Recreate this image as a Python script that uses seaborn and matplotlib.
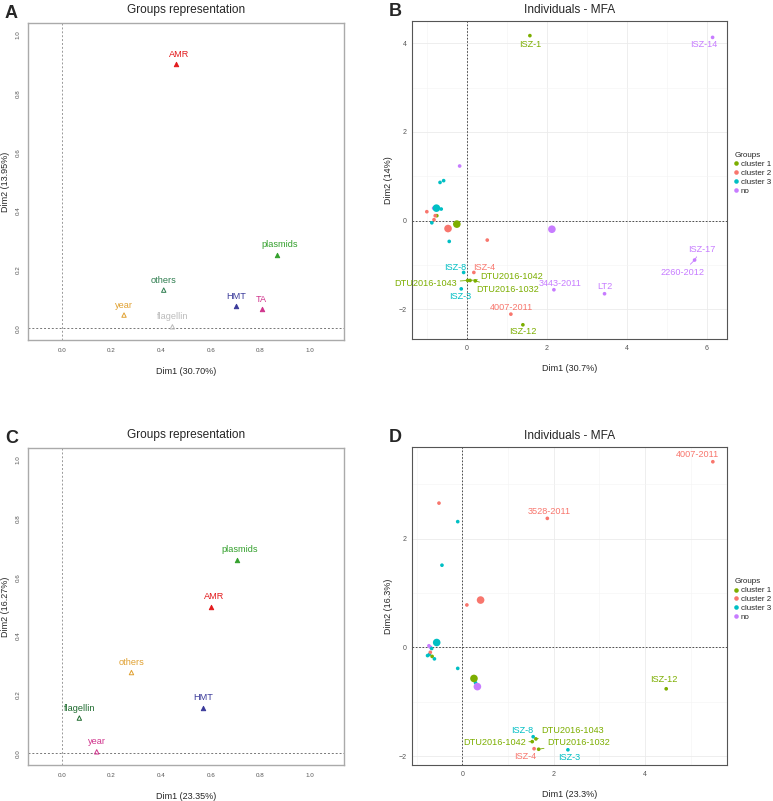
import numpy as np
import pandas as pd
import seaborn as sns
import matplotlib.pyplot as plt

# ---- data: groups representation (panels A and C)
grpA_names = ["AMR", "plasmids", "others", "year", "flagellin", "HMT", "TA"]
grpA_x = [0.46, 0.865, 0.41, 0.25, 0.445, 0.70, 0.805]
grpA_y = [0.90, 0.25, 0.13, 0.045, 0.005, 0.075, 0.065]
grpA_fill = [True, True, False, False, False, True, True]

grpC_names = ["plasmids", "AMR", "others", "HMT", "flagellin", "year"]
grpC_x = [0.705, 0.60, 0.28, 0.57, 0.07, 0.14]
grpC_y = [0.66, 0.50, 0.275, 0.155, 0.12, 0.005]
grpC_fill = [True, True, False, True, False, False]

# ---- data: individuals MFA (panel B)
indB_x = [1.575, 6.14, -0.18, -0.67, -0.58, -1.0, -0.83, -0.64, -0.75, -0.79, -0.82,
          -0.875, 0.51, -0.44, 5.69, -0.08, 0.175, 0.02, 0.08, 0.21, -0.14, 2.175,
          3.44, 1.10, 1.40]
indB_y = [4.17, 4.13, 1.23, 0.86, 0.90, 0.20, 0.28, 0.26, 0.11, 0.11, 0.02,
          -0.05, -0.44, -0.47, -0.89, -1.17, -1.17, -1.35, -1.35, -1.36, -1.54, -1.56,
          -1.65, -2.11, -2.35]
indB_grp = ["cluster 1", "no", "no", "cluster 3", "cluster 3", "cluster 2", "no", "cluster 3",
            "cluster 1", "cluster 2", "cluster 2", "cluster 3", "cluster 2", "cluster 3", "no",
            "cluster 3", "cluster 2", "cluster 1", "cluster 1", "cluster 1", "cluster 3", "no",
            "no", "cluster 2", "cluster 1"]
meanB_grp = ["cluster 1", "cluster 2", "cluster 3", "no"]
meanB_x = [-0.25, -0.47, -0.76, 2.125]
meanB_y = [-0.08, -0.18, 0.28, -0.195]

labB = ["ISZ-1", "ISZ-14", "ISZ-17", "2260-2012", "ISZ-8", "ISZ-4", "DTU2016-1042",
        "DTU2016-1043", "DTU2016-1032", "ISZ-3", "3443-2011", "LT2", "4007-2011", "ISZ-12"]
labB_idx = [0, 1, 14, 14, 15, 16, 18, 17, 19, 20, 21, 22, 23, 24]

# ---- data: individuals MFA (panel D)
indD_x = [5.48, 1.86, -0.51, -0.10, -0.445, 0.10, -0.73, -0.70, -0.67, -0.76, -0.72,
          -0.70, -0.66, -0.61, -0.10, 0.29, 4.46, 1.55, 1.61, 1.53, 1.57, 1.67, 2.31]
indD_y = [3.41, 2.37, 2.65, 2.31, 1.51, 0.78, 0.03, 0.006, -0.02, -0.15, -0.13,
          -0.09, -0.165, -0.21, -0.385, -0.65, -0.76, -1.64, -1.68, -1.73, -1.86, -1.87, -1.88]
indD_grp = ["cluster 2", "cluster 2", "cluster 2", "cluster 3", "cluster 3", "cluster 2", "no", "no",
            "cluster 3", "cluster 3", "cluster 3", "cluster 2", "cluster 1", "cluster 3", "cluster 3",
            "cluster 3", "cluster 1", "cluster 3", "cluster 1", "cluster 1", "cluster 2", "cluster 1",
            "cluster 3"]
meanD_grp = ["cluster 1", "cluster 2", "cluster 3", "no"]
meanD_x = [0.255, 0.40, -0.56, 0.33]
meanD_y = [-0.57, 0.87, 0.09, -0.72]

labD = ["4007-2011", "3528-2011", "ISZ-12", "ISZ-8", "DTU2016-1043", "DTU2016-1042",
        "DTU2016-1032", "ISZ-4", "ISZ-3"]
labD_idx = [0, 1, 16, 17, 18, 19, 21, 20, 22]

# ---- styles
pal = {"cluster 1": "#7CAE00", "cluster 2": "#F8766D", "cluster 3": "#00BFC4", "no": "#C77CFF"}
grp_col = {"AMR": "#E31A1C", "plasmids": "#33A02C", "HMT": "#3A3A9A", "TA": "#D0338C",
           "flagellin": "#BBBBBB", "others": "#2E7D4F", "year": "#E0A030"}
grp_colC = {"AMR": "#E31A1C", "plasmids": "#33A02C", "HMT": "#3A3A9A", "others": "#E0A030",
            "flagellin": "#1F6B2F", "year": "#D0338C"}
# label offsets in pixels (dx right, dy down); True = draw connector
offB = {"ISZ-1": (0, 9, False), "ISZ-14": (-9, 7, False), "ISZ-17": (7, -11, True),
        "2260-2012": (-12, 12, True), "ISZ-8": (-8, -5, False), "ISZ-4": (10, -5, False),
        "DTU2016-1042": (42, -4, True), "DTU2016-1043": (-42, 3, True),
        "DTU2016-1032": (32, 9, True), "ISZ-3": (-1, 8, False), "3443-2011": (6, -6, False),
        "LT2": (0, -7, False), "4007-2011": (1, -7, False), "ISZ-12": (0, 7, False)}
offD = {"4007-2011": (-15, -7, False), "3528-2011": (2, -7, False), "ISZ-12": (-2, -9, False),
        "ISZ-8": (-11, -6, False), "DTU2016-1043": (37, -8, True), "DTU2016-1042": (-38, 1, True),
        "DTU2016-1032": (40, -7, True), "ISZ-4": (-9, 8, False), "ISZ-3": (1, 8, False)}

sns.set_style("white")
plt.rcParams['font.family'] = ['Liberation Sans', 'DejaVu Sans']

fig = plt.figure(figsize=(7.73, 8.01), dpi=100)
PX = 0.72  # points per pixel


def groups_panel(rect, names, xs, ys, fills, cols, xlab, ylab, letter):
    ax = fig.add_axes(rect)
    df = pd.DataFrame({"x": xs, "y": ys, "name": names, "fill": fills})
    for _, r in df.iterrows():
        c = cols[r["name"]]
        ax.scatter(r["x"], r["y"], marker="^", s=10,
                   facecolor=c if r["fill"] else "none", edgecolor=c, linewidth=0.7, zorder=3)
        dx = 3 if r["name"] in ("AMR", "plasmids") else 0
        ax.annotate(r["name"], (r["x"], r["y"]), xytext=(dx * PX, 10 * PX),
                    textcoords="offset points", ha="center", va="center", fontsize=6.6, color=c)
    ax.axhline(0, color="#777777", ls=(0, (2, 2)), lw=0.7)
    ax.axvline(0, color="#999999", ls=(0, (2, 2)), lw=0.7)
    ax.set_xlim(-0.137, 1.137)
    ax.set_ylim(-0.04, 1.04)
    ax.set_xticks([0.0, 0.2, 0.4, 0.6, 0.8, 1.0])
    ax.set_yticks([0.0, 0.2, 0.4, 0.6, 0.8, 1.0])
    ax.set_xticklabels([f"{v:.1f}" for v in ax.get_xticks()], fontsize=4.5, color="#555555")
    ax.set_yticklabels([f"{v:.1f}" for v in ax.get_yticks()], fontsize=4.5, color="#555555",
                       rotation=90, va="center")
    ax.tick_params(length=2.5, width=0.5, color="#888888", pad=3)
    for s in ax.spines.values():
        s.set_color("#AAAAAA")
        s.set_linewidth(1.0)
    ax.set_xlabel(xlab, fontsize=6.5, labelpad=10)
    ax.set_ylabel(ylab, fontsize=6.5, labelpad=4)
    ax.set_title("Groups representation", fontsize=8.6, pad=7)
    fig.text(rect[0] - 0.03, rect[1] + rect[3] + 0.012, letter, fontsize=13, fontweight="bold",
             ha="left", va="center")
    return ax


def mfa_panel(rect, xs, ys, grps, mx, my, mg, labs, lidx, offs, xlim, ylim, xt, yt,
              xmin, ymin, xlab, ylab, letter):
    ax = fig.add_axes(rect)
    df = pd.DataFrame({"x": xs, "y": ys, "Groups": grps})
    dm = pd.DataFrame({"x": mx, "y": my, "Groups": mg})
    sns.scatterplot(data=df, x="x", y="y", hue="Groups", palette=pal,
                    hue_order=["cluster 1", "cluster 2", "cluster 3", "no"],
                    s=7, linewidth=0, ax=ax, legend=False, zorder=3)
    sns.scatterplot(data=dm, x="x", y="y", hue="Groups", palette=pal,
                    hue_order=["cluster 1", "cluster 2", "cluster 3", "no"],
                    s=30, linewidth=0, ax=ax, zorder=3)
    for lab, i in zip(labs, lidx):
        c = pal[grps[i]]
        dx, dy, line = offs[lab]
        ap = dict(arrowstyle="-", color=c, lw=0.6, shrinkA=0, shrinkB=1) if line else None
        ax.annotate(lab, (xs[i], ys[i]), xytext=(dx * PX, -dy * PX), textcoords="offset points",
                    ha="center", va="center", fontsize=6.6, color=c, arrowprops=ap, zorder=4)
    ax.axhline(0, color="#333333", ls=(0, (2, 2)), lw=0.6, zorder=1)
    ax.axvline(0, color="#333333", ls=(0, (2, 2)), lw=0.6, zorder=1)
    ax.set_xlim(*xlim)
    ax.set_ylim(*ylim)
    ax.set_xticks(xt)
    ax.set_yticks(yt)
    ax.set_xticks(xmin, minor=True)
    ax.set_yticks(ymin, minor=True)
    ax.grid(True, which="major", color="#EBEBEB", lw=0.6)
    ax.grid(True, which="minor", color="#F4F4F4", lw=0.4)
    ax.set_axisbelow(True)
    ax.tick_params(axis="both", which="major", labelsize=5, labelcolor="#555555",
                   length=2, width=0.5, color="#555555", pad=2)
    ax.tick_params(axis="both", which="minor", length=0)
    for s in ax.spines.values():
        s.set_color("#555555")
        s.set_linewidth(0.8)
    ax.set_xlabel(xlab, fontsize=6.5, labelpad=9)
    ax.set_ylabel(ylab, fontsize=6.5, labelpad=4)
    ax.set_title("Individuals - MFA", fontsize=8.6, pad=6)
    leg = ax.legend(title="Groups", loc="center left", bbox_to_anchor=(1.01, 0.52),
                    frameon=False, fontsize=5.8, title_fontsize=5.8, markerscale=0.6,
                    handlelength=0.5, handletextpad=0.3, labelspacing=0.15,
                    borderaxespad=0.3, borderpad=0.2)
    leg._legend_box.align = "left"
    fig.text(rect[0] - 0.03, rect[1] + rect[3] + 0.012, letter, fontsize=13, fontweight="bold",
             ha="left", va="center")
    return ax


groups_panel([0.0362, 0.5755, 0.409, 0.3958], grpA_names, grpA_x, grpA_y, grpA_fill,
             grp_col, "Dim1 (30.70%)", "Dim2 (13.95%)", "A")
mfa_panel([0.533, 0.5768, 0.4075, 0.397], indB_x, indB_y, indB_grp, meanB_x, meanB_y,
          meanB_grp, labB, labB_idx, offB, (-1.37, 6.5), (-2.67, 4.5), [0, 2, 4, 6],
          [-2, 0, 2, 4], [-1, 1, 3, 5], [-1, 1, 3], "Dim1 (30.7%)", "Dim2 (14%)", "B")
groups_panel([0.0362, 0.0449, 0.409, 0.3958], grpC_names, grpC_x, grpC_y, grpC_fill,
             grp_colC, "Dim1 (23.35%)", "Dim2 (16.27%)", "C")
mfa_panel([0.533, 0.0449, 0.4075, 0.397], indD_x, indD_y, indD_grp, meanD_x, meanD_y,
          meanD_grp, labD, labD_idx, offD, (-1.10, 5.79), (-2.16, 3.68), [0, 2, 4],
          [-2, 0, 2], [-1, 1, 3, 5], [-1, 1, 3], "Dim1 (23.3%)", "Dim2 (16.3%)", "D")

fig.savefig("out.png", dpi=100)
